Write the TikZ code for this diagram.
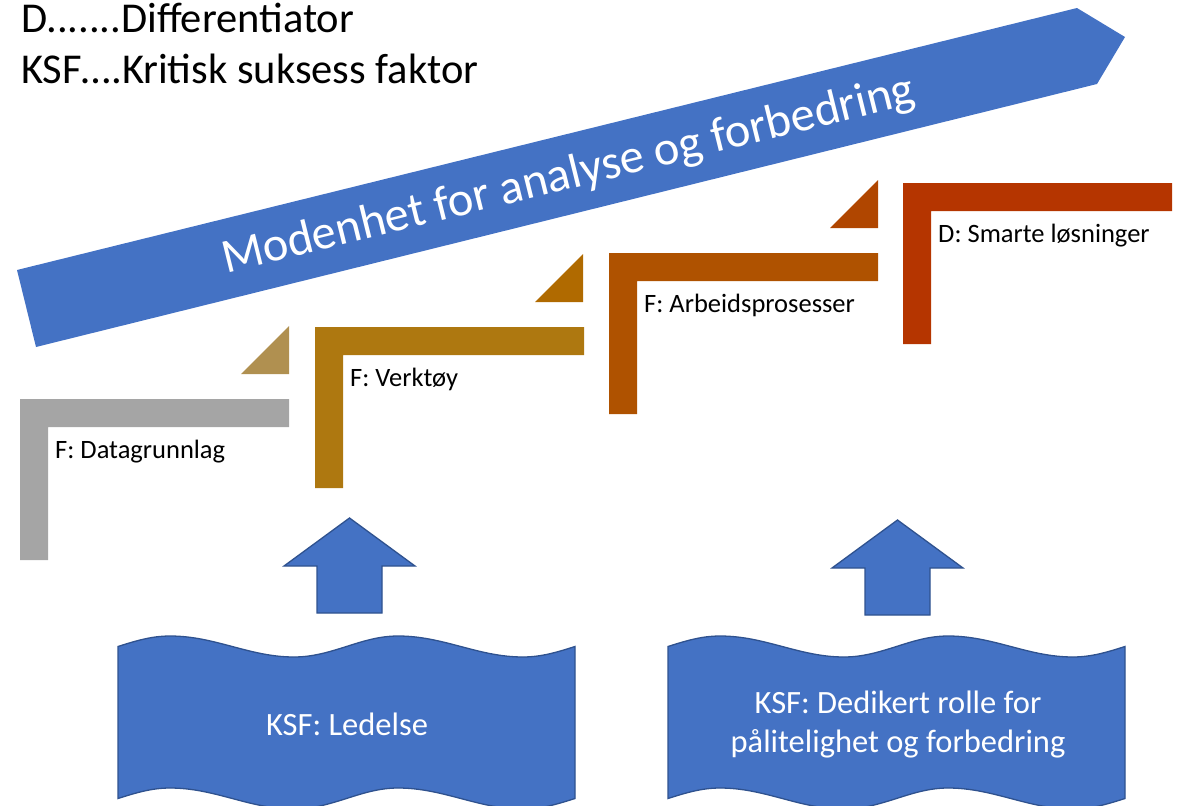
\documentclass[tikz,border=0pt]{standalone}
\usepackage{fontspec}
\setmainfont{Carlito}
\definecolor{bandblue}{HTML}{4472C4}
\definecolor{edgeblue}{HTML}{2F528F}
\definecolor{lgray}{HTML}{A5A5A5}
\definecolor{lochre}{HTML}{AE7810}
\definecolor{lrust}{HTML}{AF5200}
\definecolor{lred}{HTML}{B53500}
\definecolor{tritan}{HTML}{B09050}
\definecolor{triochre}{HTML}{B06A00}
\definecolor{trirust}{HTML}{B04600}
\begin{document}
\begin{tikzpicture}[x=1pt,y=-1pt,
  bluebox/.style={fill=bandblue,draw=edgeblue,line width=1.3pt},
  steplabel/.style={anchor=base west,inner sep=0pt,font=\fontsize{26.5}{30}\selectfont},
  wavetext/.style={text=white,align=center,inner sep=0pt,font=\fontsize{32.5}{39}\selectfont}]
\useasboundingbox (0,0) rectangle (1187,806);%画布与参考图同大
\clip (0,0) rectangle (1187,806);
% 图例
\node[anchor=base west,inner sep=0pt,font=\fontsize{42.5}{51}\selectfont] (legD) at (21,32) {D.......Differentiator};
\node[anchor=base west,inner sep=0pt,font=\fontsize{42.5}{51}\selectfont] (legK) at (21,83) {KSF….Kritisk suksess faktor};
% 大箭头
\fill[bandblue] (17,270) -- (1077,8) -- (1125,37) -- (1097,84) -- (36,347) -- cycle;
\node[anchor=base west,inner sep=0pt,rotate=13.9,text=white,font=\fontsize{48.5}{56}\selectfont] (band) at (226,274) {Modenhet for analyse og forbedring};
% 台阶
\foreach \xa/\ya/\c in {20/399/lgray,315/327/lochre,609/253/lrust,903/183/lred}
  \fill[\c] (\xa,\ya) -- ({\xa+269},\ya) -- ({\xa+269},{\ya+28}) -- ({\xa+28},{\ya+28})
    -- ({\xa+28},{\ya+161}) -- (\xa,{\ya+161}) -- cycle;
\foreach \xa/\ya/\c in {289/399/tritan,583/327/triochre,878/253/trirust}
  \fill[\c] (\xa,{\ya-73}) -- ({\xa-48},{\ya-25}) -- (\xa,{\ya-25}) -- cycle;
\node[steplabel] (data) at (55,458) {F: Datagrunnlag};
\node[steplabel] (tool) at (350,386) {F: Verktøy};
\node[steplabel] (work) at (644,312) {F: Arbeidsprosesser};
\node[steplabel] (smart) at (938,242) {D: Smarte løsninger};
% 向上箭头
\foreach \xc/\yt in {349.5/518,897.5/520}
  \draw[bluebox] (\xc,\yt) -- ({\xc+65.5},{\yt+48}) -- ({\xc+32.5},{\yt+48}) -- ({\xc+32.5},{\yt+95})
    -- ({\xc-32.5},{\yt+95}) -- ({\xc-32.5},{\yt+48}) -- ({\xc-65.5},{\yt+48}) -- cycle;
% 波浪框
\foreach \xl in {118,668}
  \draw[bluebox] (\xl,646.5) sin ({\xl+52},636) cos ({\xl+114.25},646.5) sin ({\xl+176},657)
    cos ({\xl+228.5},646.5) sin ({\xl+280},636) cos ({\xl+342.75},646.5) sin ({\xl+405},657)
    cos ({\xl+457},646.5) -- ({\xl+457},798.5) sin ({\xl+405},809) cos ({\xl+342.75},798.5)
    sin ({\xl+280},788) cos ({\xl+228.5},798.5) sin ({\xl+176},809) cos ({\xl+114.25},798.5)
    sin ({\xl+52},788) cos (\xl,798.5) -- cycle;
\node[wavetext] (lead) at (347,724) {KSF: Ledelse};
\node[wavetext] (role) at (898,725) {KSF: Dedikert rolle for\\pålitelighet og forbedring};
\end{tikzpicture}
\end{document}
